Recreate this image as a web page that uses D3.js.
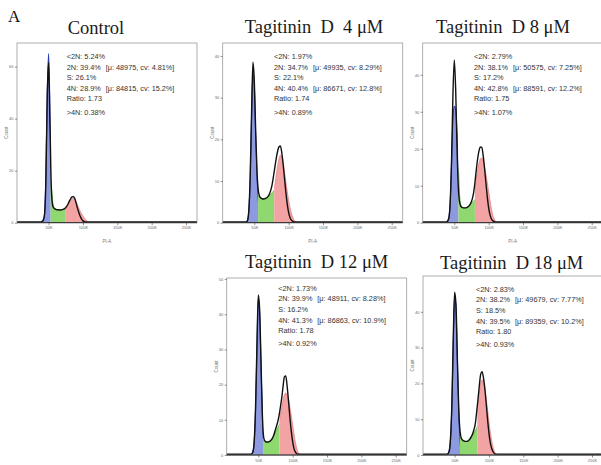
<!DOCTYPE html>
<html>
<head>
<meta charset="utf-8">
<title>Cell cycle histograms</title>
<script src="https://cdn.jsdelivr.net/npm/d3@7"></script>
<style>
  body { margin: 0; background: #fff; }
  text.pre { white-space: pre; }
</style>
</head>
<body>
<svg width="601" height="465"></svg>
<script>
// PI-A channel (thousands) at which each histogram value is read
const piK = [4, 36, 38, 40, 42, 44, 46, 48, 50, 52, 54,
  56, 58, 60, 62, 64, 66, 68, 70, 72, 74,
  76, 78, 80, 82, 84, 86, 88, 90, 92, 94,
  96, 98, 100, 102, 104, 106, 108, 110, 112, 114,
  116, 118, 266];

// Control
const ctlLine = [0.3, 0.3, 0.3, 0.4, 0.9, 3, 16, 48, 61.5, 38, 13,
  6.5, 5.5, 5.2, 5.0, 5.0, 4.9, 4.9, 5.0, 5.2, 5.6,
  6.2, 7.0, 8.2, 9.2, 9.9, 10.0, 9.4, 7.6, 5.6, 3.9,
  2.5, 1.4, 0.7, 0.4, 0.3, 0.3, 0.3, 0.3, 0.3, 0.3,
  0.3, 0.3, 0.3];
const ctlG1 = [0, 0, 0, 0.2, 0.6, 3, 18, 50, 65, 44, 16,
  4, 0.5, 0, 0, 0, 0, 0, 0, 0, 0,
  0, 0, 0, 0, 0, 0, 0, 0, 0, 0,
  0, 0, 0, 0, 0, 0, 0, 0, 0, 0,
  0, 0, 0];
const ctlS = [0, 0, 0, 0, 0, 0, 0, 0, 16, 16, 14,
  8, 5.8, 5.3, 5.1, 5.0, 5.0, 5.0, 5.1, 5.3, 5.6,
  6.0, 6.2, 0, 0, 0, 0, 0, 0, 0, 0,
  0, 0, 0, 0, 0, 0, 0, 0, 0, 0,
  0, 0, 0];
const ctlG2 = [0, 0, 0, 0, 0, 0, 0, 0, 0, 0, 0,
  0, 0, 0, 0, 0, 0, 0, 0, 5.3, 5.8,
  6.4, 7.2, 8.0, 8.7, 9.2, 9.4, 9.1, 8.2, 7.0, 5.6,
  4.4, 3.4, 2.6, 1.8, 1.1, 0.6, 0.25, 0.05, 0, 0,
  0, 0, 0];
const ctlCuts = [53, 75];

// Tagitinin D 4 uM
const d4Line = [0.2, 0.2, 0.2, 0.5, 2.9, 11, 26, 38.5, 34, 22, 12,
  7.5, 6.2, 5.9, 5.7, 5.7, 5.8, 6.0, 6.3, 6.9, 7.8,
  9.2, 11.2, 13.4, 15.5, 17.2, 18.2, 18.4, 16.8, 14.0, 10.6,
  7.2, 4.4, 2.4, 1.2, 0.6, 0.3, 0.2, 0.2, 0.2, 0.2,
  0.2, 0.2, 0.2];
const d4G1 = [0, 0, 0.1, 0.5, 2.8, 10.5, 25, 36, 33, 21, 11,
  5, 1.5, 0.3, 0, 0, 0, 0, 0, 0, 0,
  0, 0, 0, 0, 0, 0, 0, 0, 0, 0,
  0, 0, 0, 0, 0, 0, 0, 0, 0, 0,
  0, 0, 0];
const d4S = [0, 0, 0, 0, 0, 0, 0, 0, 0, 6.6, 6.5,
  6.4, 6.2, 5.9, 5.8, 5.8, 5.9, 6.0, 6.2, 6.5, 6.8,
  7.2, 7.6, 8.0, 8.3, 0, 0, 0, 0, 0, 0,
  0, 0, 0, 0, 0, 0, 0, 0, 0, 0,
  0, 0, 0];
const d4G2 = [0, 0, 0, 0, 0, 0, 0, 0, 0, 0, 0,
  0, 0, 0, 0, 0, 0, 0, 0, 0, 6.4,
  7.0, 8.0, 9.2, 11.5, 13.7, 15.4, 16.2, 15.8, 14.3, 12.2,
  9.8, 7.5, 5.4, 3.6, 2.3, 1.3, 0.6, 0.2, 0, 0,
  0, 0, 0];
const d4Cuts = [55.5, 79];

// Tagitinin D 8 uM
const d8Line = [0.2, 0.2, 0.2, 0.4, 1.2, 5.5, 17, 34.5, 44, 36, 20,
  9, 5.2, 4.3, 4.1, 4.0, 4.0, 4.1, 4.3, 4.7, 5.3,
  6.3, 8.0, 10.8, 14.3, 17.3, 19.5, 20.5, 20.4, 18.2, 14.8,
  10.8, 7.0, 4.0, 2.1, 1.0, 0.5, 0.3, 0.2, 0.2, 0.2,
  0.2, 0.2, 0.2];
const d8G1 = [0, 0, 0, 0.3, 1.2, 5.3, 16, 28, 31.5, 30.5, 24,
  12, 3, 0.5, 0, 0, 0, 0, 0, 0, 0,
  0, 0, 0, 0, 0, 0, 0, 0, 0, 0,
  0, 0, 0, 0, 0, 0, 0, 0, 0, 0,
  0, 0, 0];
const d8S = [0, 0, 0, 0, 0, 0, 0, 0, 0, 15, 15,
  14, 7, 4.5, 4.1, 4.0, 4.0, 4.1, 4.3, 4.6, 5.0,
  5.4, 5.8, 6.2, 6.5, 0, 0, 0, 0, 0, 0,
  0, 0, 0, 0, 0, 0, 0, 0, 0, 0,
  0, 0, 0];
const d8G2 = [0, 0, 0, 0, 0, 0, 0, 0, 0, 0, 0,
  0, 0, 0, 0, 0, 0, 0, 0, 0, 5.8,
  6.5, 7.5, 9.0, 11.8, 14.3, 16.2, 17.3, 17.5, 16.8, 15.2,
  13.2, 10.9, 8.5, 6.0, 3.8, 2.1, 1.0, 0.4, 0.1, 0,
  0, 0, 0];
const d8Cuts = [56, 80];

// Tagitinin D 12 uM
const d12Line = [0.2, 0.2, 0.2, 0.3, 0.8, 3.8, 13.5, 31, 45.5, 41, 26,
  11, 4.8, 3.9, 3.7, 3.7, 3.8, 4.1, 4.6, 5.4, 6.6,
  7.9, 9.2, 11.0, 13.4, 16.0, 19.4, 22.2, 22.5, 19.5, 15.3,
  10.6, 6.8, 3.8, 1.8, 0.8, 0.35, 0.2, 0.2, 0.2, 0.2,
  0.2, 0.2, 0.2];
const d12G1 = [0, 0, 0, 0.2, 0.8, 3.6, 13, 30, 44.5, 40, 25,
  11, 3, 0.5, 0, 0, 0, 0, 0, 0, 0,
  0, 0, 0, 0, 0, 0, 0, 0, 0, 0,
  0, 0, 0, 0, 0, 0, 0, 0, 0, 0,
  0, 0, 0];
const d12S = [0, 0, 0, 0, 0, 0, 0, 0, 0, 0, 4.6,
  4.4, 4.0, 3.8, 3.7, 3.7, 3.8, 4.1, 4.6, 5.3, 6.0,
  6.8, 7.6, 8.4, 9.1, 9.8, 0, 0, 0, 0, 0,
  0, 0, 0, 0, 0, 0, 0, 0, 0, 0,
  0, 0, 0];
const d12G2 = [0, 0, 0, 0, 0, 0, 0, 0, 0, 0, 0,
  0, 0, 0, 0, 0, 0, 0, 0, 0, 6.0,
  6.8, 7.5, 9.0, 11.2, 13.4, 15.5, 17.1, 17.6, 17.1, 15.7,
  13.7, 11.3, 8.6, 5.9, 3.6, 1.9, 0.8, 0.3, 0, 0,
  0, 0, 0];
const d12Cuts = [57, 81];

// Tagitinin D 18 uM
const d18Line = [0.2, 0.2, 0.2, 0.3, 1.0, 4.5, 14, 32, 45.5, 42, 27,
  13, 6.5, 4.6, 4.1, 3.9, 3.8, 3.8, 4.0, 4.4, 5.0,
  5.8, 7.0, 8.6, 11.8, 15.5, 19.4, 22.6, 23.3, 21.6, 18.6,
  14.4, 9.9, 6.1, 3.4, 1.8, 0.9, 0.4, 0.2, 0.2, 0.2,
  0.2, 0.2, 0.2];
const d18G1 = [0, 0, 0, 0.3, 1.0, 4.3, 13.5, 31, 44.5, 41, 26.5,
  12.5, 4, 0.8, 0, 0, 0, 0, 0, 0, 0,
  0, 0, 0, 0, 0, 0, 0, 0, 0, 0,
  0, 0, 0, 0, 0, 0, 0, 0, 0, 0,
  0, 0, 0];
const d18S = [0, 0, 0, 0, 0, 0, 0, 0, 0, 0, 5.8,
  5.5, 5.0, 4.5, 4.1, 3.9, 3.8, 3.8, 4.0, 4.3, 4.8,
  5.3, 6.0, 6.8, 7.5, 8.2, 0, 0, 0, 0, 0,
  0, 0, 0, 0, 0, 0, 0, 0, 0, 0,
  0, 0, 0];
const d18G2 = [0, 0, 0, 0, 0, 0, 0, 0, 0, 0, 0,
  0, 0, 0, 0, 0, 0, 0, 0, 0, 0,
  0, 8, 10, 12.5, 15, 17.6, 20, 21, 20.5, 18.6,
  15.8, 12.6, 9.4, 6.4, 4.0, 2.2, 1.0, 0.35, 0.05, 0,
  0, 0, 0];
const d18Cuts = [57.8, 83];

// panel texts
const titles = ["Control", "Tagitinin  D  4 μM", "Tagitinin  D 8 μM", "Tagitinin  D 12 μM", "Tagitinin  D 18 μM"];
const below2N = ["5.24%", "1.97%", "2.79%", "1.73%", "2.83%"];
const g1Pct = ["39.4%", "34.7%", "38.1%", "39.9%", "38.2%"];
const g1Mean = ["48975", "49935", "50575", "48911", "49679"];
const g1Cv = ["4.81%", "8.29%", "7.25%", "8.28%", "7.77%"];
const sPct = ["26.1%", "22.1%", "17.2%", "16.2%", "18.5%"];
const g2Pct = ["28.9%", "40.4%", "42.8%", "41.3%", "39.5%"];
const g2Mean = ["84815", "86671", "88591", "86863", "89359"];
const g2Cv = ["15.2%", "12.8%", "12.2%", "10.9%", "10.2%"];
const ratio = ["1.73", "1.74", "1.75", "1.78", "1.80"];
const above4N = ["0.38%", "0.89%", "1.07%", "0.92%", "0.93%"];

// axes
const xTicks = [50000, 100000, 150000, 200000, 250000];
const countMax = [69.1, 43.1, 48.6, 50.3, 50];
const countTicks = [[0, 20, 40, 60], [0, 10, 20, 30, 40], [0, 10, 20, 30, 40], [0, 10, 20, 30, 40, 50], [0, 10, 20, 30, 40]];

// where each panel sits on the page
const layout = [
  { x: 17, y: 43, h: 179.7, tx: 96, ty: 34, sx: 66.7, sy: 59.2 },
  { x: 222.7, y: 43, h: 179.7, tx: 314, ty: 32.5, sx: 274, sy: 59.2 },
  { x: 422.7, y: 43, h: 179.7, tx: 503, ty: 32.5, sx: 474, sy: 59.2 },
  { x: 226.7, y: 278, h: 177, tx: 316.7, ty: 268.3, sx: 278.3, sy: 290.8 },
  { x: 423, y: 276, h: 179, tx: 511.7, ty: 269.3, sx: 476, sy: 291.8 }
];
const W = 180;
const pageH = 465;

const series = [
  { line: ctlLine, g1: ctlG1, s: ctlS, g2: ctlG2, cuts: ctlCuts },
  { line: d4Line, g1: d4G1, s: d4S, g2: d4G2, cuts: d4Cuts },
  { line: d8Line, g1: d8G1, s: d8S, g2: d8G2, cuts: d8Cuts },
  { line: d12Line, g1: d12G1, s: d12S, g2: d12G2, cuts: d12Cuts },
  { line: d18Line, g1: d18G1, s: d18S, g2: d18G2, cuts: d18Cuts }
];

const svg = d3.select("svg");
const sans = "'Liberation Sans', Arial, sans-serif";
const serif = "'Liberation Serif', 'Times New Roman', serif";
const defs = svg.append("defs");

svg.append("text")
  .attr("x", 8).attr("y", 22)
  .attr("font-family", serif).attr("font-size", 17).attr("fill", "#111")
  .text("A");

series.forEach((ser, i) => {
  const L = layout[i];
  const x = d3.scaleLinear().domain([4000, 266000]).range([L.x, L.x + W]);
  const y = d3.scaleLinear().domain([0, countMax[i]]).range([L.y + L.h, L.y]);
  const pts = arr => piK.map((k, j) => [k * 1000, arr[j]]);
  const area = d3.area().x(d => x(d[0])).y0(y(0)).y1(d => y(d[1])).curve(d3.curveMonotoneX);
  const line = d3.line().x(d => x(d[0])).y(d => y(d[1])).curve(d3.curveMonotoneX);

  const g = svg.append("g");

  // model fills: G1 (blue), S (green), G2 (red), split at the gate cuts
  const bounds = [4, ser.cuts[0], ser.cuts[1], 266];
  const fills = [
    [ser.g1, "#8e9ae0", "#2b3cb0", 1.1],
    [ser.s, "#8fd76f", "#4fae36", 0.7],
    [ser.g2, "#f3a3a3", "#e27c7c", 0.7]
  ];
  fills.forEach((f, k) => {
    const id = `clip${i}_${k}`;
    defs.append("clipPath").attr("id", id).append("rect")
      .attr("x", x(bounds[k] * 1000)).attr("y", L.y)
      .attr("width", x(bounds[k + 1] * 1000) - x(bounds[k] * 1000))
      .attr("height", L.h);
    const fg = g.append("g").attr("clip-path", `url(#${id})`);
    fg.append("path").attr("d", area(pts(f[0]))).attr("fill", f[1]);
    fg.append("path").attr("d", line(pts(f[0])))
      .attr("fill", "none").attr("stroke", f[2]).attr("stroke-width", f[3]);
  });

  // measured histogram
  g.append("path").attr("d", line(pts(ser.line)))
    .attr("fill", "none").attr("stroke", "#111").attr("stroke-width", 1.4);

  // frame
  g.append("rect")
    .attr("x", L.x).attr("y", L.y).attr("width", W).attr("height", L.h)
    .attr("fill", "none").attr("stroke", "#9a9a9a").attr("stroke-width", 0.8);
  g.append("line")
    .attr("x1", L.x).attr("x2", L.x + W).attr("y1", y(0)).attr("y2", y(0))
    .attr("stroke", "#222").attr("stroke-width", 1);

  // x axis
  const xa = g.append("g").attr("transform", `translate(0,${y(0)})`);
  xa.call(d3.axisBottom(x).tickValues(d3.range(10000, 270000, 10000)).tickSize(1.5).tickFormat(""));
  xa.call(d3.axisBottom(x).tickValues(xTicks).tickSize(2.5).tickPadding(1.2).tickFormat(d => d / 1000 + "K"));
  xa.selectAll(".domain").remove();
  xa.selectAll("line").attr("stroke", "#444").attr("stroke-width", 0.6);
  xa.selectAll("text").attr("font-size", 4).attr("font-family", sans).attr("fill", "#666");

  // y axis
  const ya = g.append("g").attr("transform", `translate(${L.x},0)`);
  ya.call(d3.axisLeft(y).tickValues(countTicks[i]).tickSize(2).tickPadding(1.5));
  ya.selectAll(".domain").remove();
  ya.selectAll("line").attr("stroke", "#444").attr("stroke-width", 0.6);
  ya.selectAll("text").attr("font-size", 4).attr("font-family", sans).attr("fill", "#666");

  // the lower row's axis title falls below the page, as in the original
  if (y(0) + 20 < pageH) {
    g.append("text")
      .attr("x", L.x + W / 2).attr("y", y(0) + 20)
      .attr("text-anchor", "middle").attr("font-size", 4.5).attr("font-family", sans).attr("fill", "#777")
      .text("PI-A");
  }
  g.append("text")
    .attr("transform", `translate(${L.x - 9},${L.y + L.h / 2}) rotate(-90)`)
    .attr("text-anchor", "middle").attr("font-size", 4.5).attr("font-family", sans).attr("fill", "#777")
    .text("Count");

  // title
  svg.append("text").attr("class", "pre")
    .attr("x", L.tx).attr("y", L.ty)
    .attr("text-anchor", "middle")
    .attr("font-family", serif).attr("font-size", 18.5).attr("fill", "#1a1a1a")
    .text(titles[i]);

  // statistics
  const rows = [
    [`<2N: ${below2N[i]}`],
    [`2N: ${g1Pct[i]}`, `[μ: ${g1Mean[i]}, cv: ${g1Cv[i]}]`],
    [`S: ${sPct[i]}`],
    [`4N: ${g2Pct[i]}`, `[μ: ${g2Mean[i]}, cv: ${g2Cv[i]}]`],
    [`Ratio: ${ratio[i]}`],
    [`>4N: ${above4N[i]}`]
  ];
  const rowY = [0, 10.6, 21.2, 31.8, 42, 55.3];
  rows.forEach((r, k) => {
    r.forEach((t, c) => {
      g.append("text")
        .attr("x", L.sx + c * 39).attr("y", L.sy + rowY[k])
        .attr("font-family", sans).attr("font-size", 7.3).attr("fill", "#333")
        .text(t);
    });
  });
});
</script>
</body>
</html>
